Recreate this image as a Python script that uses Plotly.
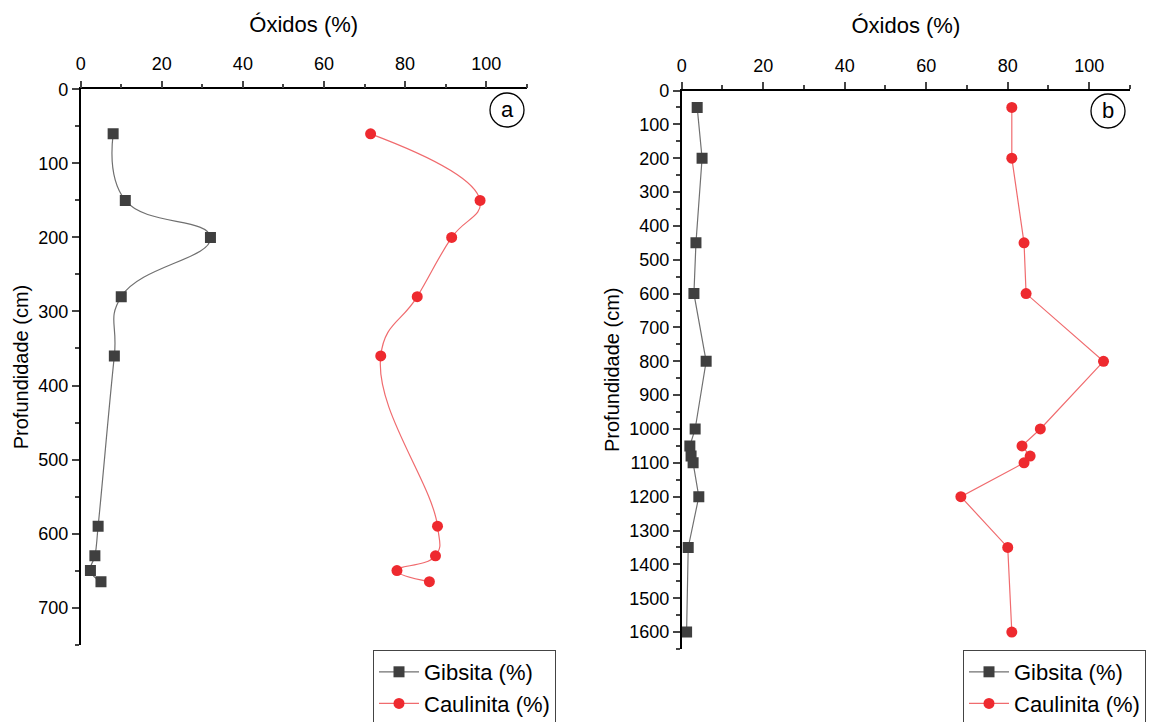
import plotly.graph_objects as go

# Perfil (a)
prof_a = [60, 150, 200, 280, 360, 590, 630, 650, 665]
gibsita_a = [8.0, 11.0, 32.0, 10.0, 8.3, 4.3, 3.5, 2.4, 5.0]
caulinita_a = [71.5, 98.5, 91.5, 83.0, 74.0, 88.0, 87.5, 78.0, 86.0]

# Perfil (b)
prof_b = [50, 200, 450, 600, 800, 1000, 1050, 1080, 1100, 1200, 1350, 1600]
gibsita_b = [3.8, 5.0, 3.5, 3.0, 6.0, 3.3, 2.0, 2.3, 2.8, 4.2, 1.6, 1.2]
caulinita_b = [81.0, 81.0, 84.0, 84.5, 103.5, 88.0, 83.5, 85.5, 84.0, 68.5, 80.0, 81.0]

x_ticks = [0, 20, 40, 60, 80, 100]
y_ticks_a = list(range(0, 701, 100))
y_ticks_b = list(range(0, 1601, 100))

W, H = 1167, 722
FONT = "Liberation Sans, Arial, sans-serif"
GRAY_M = "#3f3f3f"
GRAY_L = "#707070"
RED_M = "#ee2a2f"
RED_L = "#f06b6e"

fig = go.Figure()

def add_series(x, y, name, xa, ya, legend, shape, symbol, mcolor, lcolor):
    fig.add_trace(go.Scatter(
        x=x, y=y, name=name, xaxis=xa, yaxis=ya, legend=legend,
        mode="lines+markers",
        line=dict(color=lcolor, width=1.2, shape=shape, smoothing=1.3),
        marker=dict(symbol=symbol, size=11, color=mcolor),
    ))

add_series(gibsita_a, prof_a, "Gibsita (%)", "x", "y", "legend", "spline", "square", GRAY_M, GRAY_L)
add_series(caulinita_a, prof_a, "Caulinita (%)", "x", "y", "legend", "spline", "circle", RED_M, RED_L)
add_series(gibsita_b, prof_b, "Gibsita (%)", "x2", "y2", "legend2", "linear", "square", GRAY_M, GRAY_L)
add_series(caulinita_b, prof_b, "Caulinita (%)", "x2", "y2", "legend2", "linear", "circle", RED_M, RED_L)

def xaxis(domain, anchor):
    return dict(
        domain=domain, anchor=anchor, side="top", range=[0, 110], automargin=False,
        tickvals=x_ticks, ticks="outside", ticklen=7, tickwidth=1.5, ticklabelstandoff=3,
        minor=dict(dtick=10, ticklen=4, tickwidth=1.5, ticks="outside", tick0=0),
        showline=True, linecolor="black", linewidth=1.6, showgrid=False, zeroline=False,
        tickfont=dict(family=FONT, size=18, color="black"),
        title=dict(text="Óxidos (%)", font=dict(family=FONT, size=22, color="black"), standoff=16),
    )

def yaxis(domain, anchor, rng, ticks):
    return dict(
        domain=domain, anchor=anchor, range=rng, tickvals=ticks, automargin=False,
        ticks="outside", ticklen=7, tickwidth=1.5,
        minor=dict(dtick=50, ticklen=4, tickwidth=1.5, ticks="outside", tick0=0),
        showline=True, linecolor="black", linewidth=1.6, showgrid=False, zeroline=False,
        tickfont=dict(family=FONT, size=18, color="black"),
        title=dict(text="Profundidade (cm)", font=dict(family=FONT, size=20, color="black"), standoff=4),
    )

def legend(x, y):
    return dict(
        x=x, y=y, xanchor="left", yanchor="top", xref="paper", yref="paper",
        bgcolor="white", bordercolor="#444", borderwidth=1,
        font=dict(family=FONT, size=22, color="black"),
        itemwidth=40, tracegroupgap=0,
    )

fig.update_layout(
    width=W, height=H, margin=dict(l=0, r=0, t=0, b=0, autoexpand=False),
    paper_bgcolor="white", plot_bgcolor="white",
    xaxis=xaxis([80.7 / W, 526.7 / W], "y"),
    yaxis=yaxis([1 - 644.6 / H, 1 - 89.4 / H], "x", [750, 0], y_ticks_a),
    xaxis2=xaxis([681.7 / W, 1130 / W], "y2"),
    yaxis2=yaxis([1 - 649 / H, 1 - 90.5 / H], "x2", [1650, 0], y_ticks_b),
    legend=legend(373 / W, 1 - 650 / H),
    legend2=legend(963 / W, 1 - 650 / H),
    showlegend=True,
)

# Rótulos dos painéis dentro de círculos
for lbl, cx, cy in [("a", 507, 110), ("b", 1108, 111)]:
    r = 17
    fig.add_shape(type="circle", xref="paper", yref="paper",
                  x0=(cx - r) / W, x1=(cx + r) / W, y0=1 - (cy + r) / H, y1=1 - (cy - r) / H,
                  line=dict(color="black", width=1.3), fillcolor="white")
    fig.add_annotation(text=lbl, x=cx / W, y=1 - cy / H, xref="paper", yref="paper",
                       showarrow=False, font=dict(family=FONT, size=22, color="black"),
                       xanchor="center", yanchor="middle")

fig.write_html("out.html")
